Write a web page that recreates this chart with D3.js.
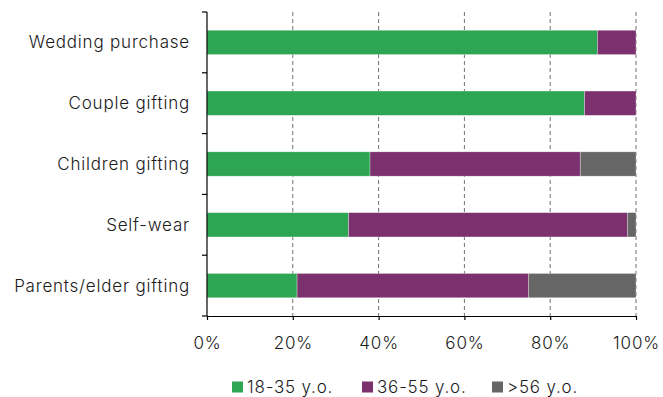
<!DOCTYPE html>
<html>
<head>
<meta charset="utf-8">
<script src="https://cdn.jsdelivr.net/npm/d3@7"></script>
<style>
  html, body { margin: 0; padding: 0; background: #fff; }
  svg text { font-family: Inter, "Helvetica Neue", Arial, sans-serif; font-weight: 300; fill: #1a1a1a; letter-spacing: 0.8px; }
</style>
</head>
<body>
<svg id="chart" width="663" height="397"></svg>
<script>
// Purchase occasion by age group (share of buyers, %)
const categories = ["Wedding purchase", "Couple gifting", "Children gifting", "Self-wear", "Parents/elder gifting"];
const seriesNames = ["18-35 y.o.", "36-55 y.o.", ">56 y.o."];
const age18to35 = [91, 88, 38, 33, 21];
const age36to55 = [9, 12, 49, 65, 54];
const age56plus = [0, 0, 13, 2, 25];
const xTicks = [0, 20, 40, 60, 80, 100];
const colors = ["#2ea553", "#7b316e", "#666666"];

const rows = categories.map((c, i) => ({
  category: c,
  "18-35 y.o.": age18to35[i],
  "36-55 y.o.": age36to55[i],
  ">56 y.o.": age56plus[i]
}));

const svg = d3.select("#chart");
const plotLeft = 207, plotRight = 636, plotTop = 12, plotBottom = 316;
const fontSize = 17;

const x = d3.scaleLinear().domain([0, 100]).range([plotLeft, plotRight]);
const y = d3.scaleBand().domain(categories).range([plotTop, plotBottom]).paddingInner(0.6).paddingOuter(0.3);

// dashed vertical gridlines
svg.append("g").selectAll("line")
  .data(xTicks.filter(t => t > 0))
  .join("line")
  .attr("x1", d => x(d)).attr("x2", d => x(d))
  .attr("y1", plotTop).attr("y2", plotBottom)
  .attr("stroke", "#707070").attr("stroke-width", 1)
  .attr("stroke-dasharray", "4,3");

// stacked bars
const stack = d3.stack().keys(seriesNames)(rows);
svg.append("g").selectAll("g")
  .data(stack)
  .join("g")
  .attr("fill", (d, i) => colors[i])
  .selectAll("rect")
  .data(d => d.filter(s => s[1] - s[0] > 0))
  .join("rect")
  .attr("x", d => x(d[0]))
  .attr("width", d => x(d[1]) - x(d[0]))
  .attr("y", d => y(d.data.category))
  .attr("height", y.bandwidth())
  .attr("stroke", "#ffffff").attr("stroke-opacity", 0.5).attr("stroke-width", 0.6);

// y axis: line with ticks at category boundaries
const bounds = categories.map(c => y(c) - y.step() * y.paddingInner() / 2);
bounds.push(plotBottom);
const yAxis = svg.append("g");
yAxis.append("line")
  .attr("x1", plotLeft).attr("x2", plotLeft).attr("y1", plotTop).attr("y2", plotBottom)
  .attr("stroke", "#000").attr("stroke-width", 1.2);
yAxis.selectAll("line.tick")
  .data(bounds)
  .join("line").attr("class", "tick")
  .attr("x1", plotLeft - 5).attr("x2", plotLeft)
  .attr("y1", d => d).attr("y2", d => d)
  .attr("stroke", "#000").attr("stroke-width", 1.2);
yAxis.selectAll("text")
  .data(categories)
  .join("text")
  .attr("x", 190)
  .attr("y", d => y(d) + y.bandwidth() / 2)
  .attr("dy", "0.35em")
  .attr("text-anchor", "end")
  .attr("font-size", fontSize)
  .text(d => d);

// x axis
const xAxis = svg.append("g").attr("transform", `translate(0,${plotBottom})`)
  .call(d3.axisBottom(x).tickValues(xTicks).tickFormat(d => d + "%").tickSize(4).tickSizeOuter(0));
xAxis.select(".domain").attr("stroke", "#000").attr("stroke-width", 1.2);
xAxis.selectAll(".tick line").attr("stroke", "#000").attr("stroke-width", 1.2);
xAxis.selectAll(".tick text")
  .attr("font-size", fontSize)
  .attr("y", 27)
  .attr("dy", "0.35em");

// legend
const legendX = [232, 362, 492];
const legend = svg.append("g").selectAll("g")
  .data(seriesNames)
  .join("g")
  .attr("transform", (d, i) => `translate(${legendX[i]},387)`);
legend.append("rect")
  .attr("x", 0).attr("y", -5.5).attr("width", 11).attr("height", 11)
  .attr("fill", (d, i) => colors[i]);
legend.append("text")
  .attr("x", 15).attr("y", 0).attr("dy", "0.35em")
  .attr("font-size", fontSize)
  .text(d => d);
</script>
</body>
</html>
